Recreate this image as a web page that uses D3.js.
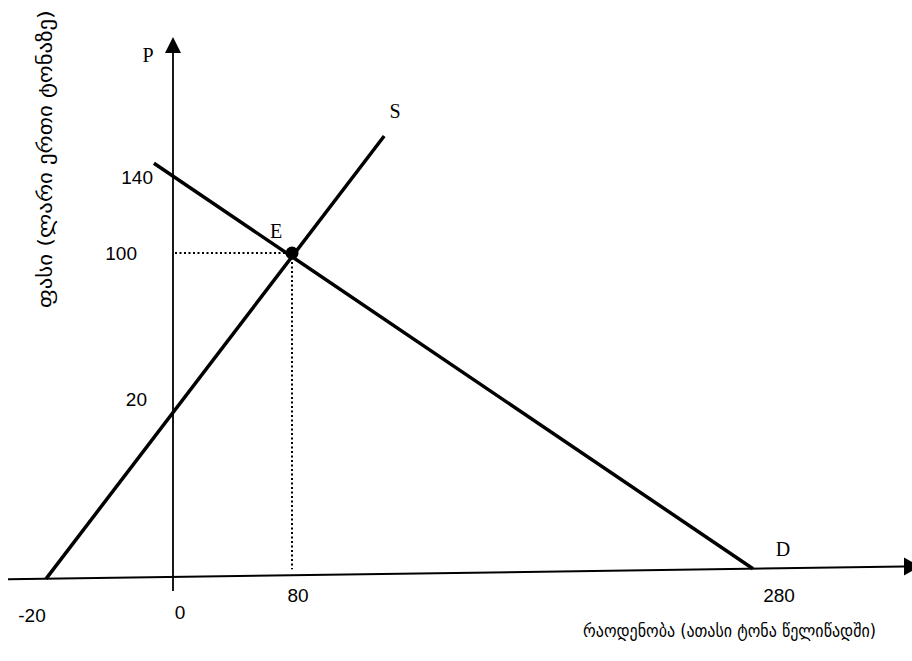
<!DOCTYPE html>
<html>
<head>
<meta charset="utf-8">
<script src="https://cdn.jsdelivr.net/npm/d3@7"></script>
<style>
  body { margin: 0; background: #fff; }
  .tick { font-family: "Liberation Sans", Arial, sans-serif; font-size: 19px; }
  .letter { font-family: "Liberation Serif", "Times New Roman", serif; font-size: 20px; }
  .title { font-family: "DejaVu Sans", sans-serif; font-size: 17.5px; }
</style>
</head>
<body>
<script>
// values (diagram is not drawn to scale)
var qTicks = [-20, 0, 80, 280];
var pTicks = [20, 100, 140];
var supplyQ = [-20, 120];
var supplyP = [0, 160];
var demandQ = [-3, 280];
var demandP = [146, 0];
var eqQ = 80, eqP = 100;

var width = 912, height = 661;

var svg = d3.select("body").append("svg")
  .attr("width", width)
  .attr("height", height);

// piecewise scales, the hand drawn diagram is stretched unevenly
var x = d3.scaleLinear()
  .domain([-20, 0, 80, 280])
  .range([46, 173, 292, 753]);
var y = d3.scaleLinear()
  .domain([0, 20, 100, 140])
  .range([577, 406, 253, 175]);

// the quantity axis is drawn slightly tilted
var tilt = -0.0143;
function base(px) { return y(0) + tilt * (px - x(0)); }
function py(q, p) { return p === 0 ? base(x(q)) : y(p); }

// axes
svg.append("line")
  .attr("x1", 8).attr("y1", base(8))
  .attr("x2", 904).attr("y2", base(904))
  .attr("stroke", "#000").attr("stroke-width", 2);
svg.append("path")
  .attr("d", "M904," + (base(904) - 9) + "L920," + base(904) + "L904," + (base(904) + 9) + "Z")
  .attr("fill", "#000");

svg.append("line")
  .attr("x1", x(0)).attr("y1", 591)
  .attr("x2", x(0)).attr("y2", 52)
  .attr("stroke", "#000").attr("stroke-width", 1.8);
svg.append("path")
  .attr("d", "M" + (x(0) - 8) + ",53L" + x(0) + ",37L" + (x(0) + 8) + ",53Z")
  .attr("fill", "#000");

// dotted guides to the equilibrium
svg.append("line")
  .attr("x1", x(0) + 2).attr("y1", y(eqP))
  .attr("x2", x(eqQ)).attr("y2", y(eqP))
  .attr("stroke", "#000").attr("stroke-width", 2)
  .attr("stroke-dasharray", "2,2.5");
svg.append("line")
  .attr("x1", x(eqQ)).attr("y1", y(eqP))
  .attr("x2", x(eqQ)).attr("y2", base(x(eqQ)) - 6)
  .attr("stroke", "#000").attr("stroke-width", 2)
  .attr("stroke-dasharray", "2,2.5");

// supply and demand
var line = d3.line()
  .x(d => x(d[0]))
  .y(d => py(d[0], d[1]));

svg.append("path")
  .datum(d3.zip(supplyQ, supplyP))
  .attr("d", line)
  .attr("fill", "none").attr("stroke", "#000").attr("stroke-width", 3.5);

svg.append("path")
  .datum(d3.zip(demandQ, demandP))
  .attr("d", line)
  .attr("fill", "none").attr("stroke", "#000").attr("stroke-width", 3.5);

svg.append("circle")
  .attr("cx", x(eqQ)).attr("cy", y(eqP))
  .attr("r", 6.5).attr("fill", "#000");

// tick labels, nudged like in the picture
var qNudge = { "-20": [-14, 43], "0": [7, 42], "80": [6, 27], "280": [26, 33] };
svg.selectAll(".qlab")
  .data(qTicks)
  .enter().append("text")
  .attr("class", "tick")
  .attr("text-anchor", "middle")
  .attr("x", d => x(d) + qNudge[d][0])
  .attr("y", d => base(x(d)) + qNudge[d][1])
  .text(d => d);

var pNudge = { "20": [-26, 0], "100": [-36, 7], "140": [-20, 9] };
svg.selectAll(".plab")
  .data(pTicks)
  .enter().append("text")
  .attr("class", "tick")
  .attr("text-anchor", "end")
  .attr("x", d => x(0) + pNudge[d][0])
  .attr("y", d => y(d) + pNudge[d][1])
  .text(d => d);

// letters
svg.append("text").attr("class", "letter").attr("text-anchor", "middle")
  .attr("x", 148).attr("y", 62).text("P");
svg.append("text").attr("class", "letter").attr("text-anchor", "middle")
  .attr("x", 395).attr("y", 118).text("S");
svg.append("text").attr("class", "letter").attr("text-anchor", "middle")
  .attr("x", x(eqQ) - 16).attr("y", y(eqP) - 15).text("E");
svg.append("text").attr("class", "letter").attr("text-anchor", "middle")
  .attr("x", x(280) + 30).attr("y", 556).text("D");

// axis titles
svg.append("text").attr("class", "title")
  .attr("x", 583).attr("y", 637)
  .attr("textLength", 293)
  .attr("lengthAdjust", "spacingAndGlyphs")
  .text("რაოდენობა (ათასი ტონა წელიწადში)");

svg.append("text").attr("class", "title")
  .style("font-size", "19px")
  .attr("transform", "translate(52,308) rotate(-90)")
  .attr("textLength", 298)
  .attr("lengthAdjust", "spacingAndGlyphs")
  .text("ფასი (ლარი ერთი ტონაზე)");
</script>
</body>
</html>
